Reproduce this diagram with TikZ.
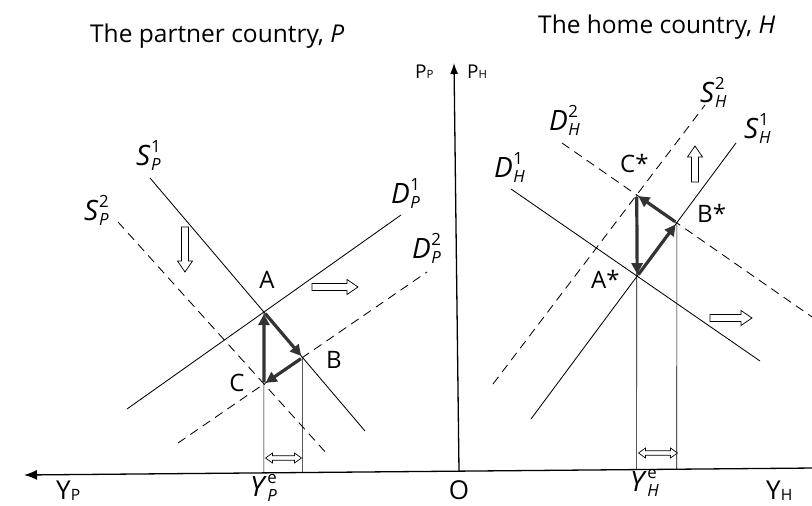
\documentclass[tikz,border=0pt]{standalone}
\usepackage{fontspec}
\setmainfont{Open Sans}
\usepackage{graphicx}
\usetikzlibrary{arrows.meta}
\newcommand\SupSub[2]{\kern0.5pt\rlap{\raisebox{0.45em}{\scalebox{0.6}{#1}}}\raisebox{-0.2em}{\scalebox{0.6}{#2}}}
\newcommand\SubOnly[1]{\raisebox{-0.05em}{\scalebox{0.6}{#1}}}
\begin{document}
\begin{tikzpicture}[x=1pt,y=-1pt,
  solidcurve/.style={line width=0.85pt},
  dashcurve/.style={line width=0.85pt, dash pattern=on 9pt off 6pt},
  guideline/.style={line width=0.6pt},
  axisline/.style={line width=1.3pt},
  movearrow/.style={line width=3.2pt, draw=black!80, -{Triangle[length=11pt,width=11pt]}, shorten <=2pt, shorten >=2pt},
  titletext/.style={inner sep=0pt, anchor=base west, font=\fontsize{24.5}{28}\selectfont},
  pointlabel/.style={inner sep=0pt, font=\fontsize{24}{28}\selectfont},
  curvelabel/.style={inner sep=0pt, anchor=base west, font=\fontsize{28}{32}\selectfont},
  axislabel/.style={inner sep=0pt, font=\fontsize{26}{28}\selectfont},
  pricelabel/.style={inner sep=0pt, anchor=base west, font=\fontsize{19}{22}\selectfont},
  pics/shiftarrow/.style={code={\draw[line width=0.75pt, fill=white] (0,-3.5) -- (#1-11,-3.5) -- (#1-11,-7.5) -- (#1,0) -- (#1-11,7.5) -- (#1-11,3.5) -- (0,3.5) -- cycle;}},
  pics/gaparrow/.style={code={\draw[line width=0.65pt, fill=white] (0,0) -- (7,-5) -- (7,-2.2) -- (#1-7,-2.2) -- (#1-7,-5) -- (#1,0) -- (#1-7,5) -- (#1-7,2.2) -- (7,2.2) -- (7,5) -- cycle;}}]
\useasboundingbox (0,0) rectangle (812,506);

% ---------- axes ----------
\coordinate (O) at (459,471);
\coordinate (Ptop) at (454,63);
\coordinate (Xr) at (815,468);
\coordinate (Xl) at (24,475);
\draw[axisline,-{Latex[length=13pt,width=10pt]}] (Xr) -- (Xl);
\draw[axisline,-{Latex[length=11pt,width=8pt]}] (O) -- (Ptop);

% ---------- titles ----------
\node[titletext] (tP) at (90,42) {The partner country, \textit{P}};
\node[titletext] (tH) at (538,33) {The home country, \textit{H}};

% ---------- left panel curves ----------
\coordinate (S1a) at (150,178);  \coordinate (S1b) at (365,431);
\coordinate (D1a) at (127,409);  \coordinate (D1b) at (401,215);
\coordinate (S2a) at (118,222);  \coordinate (S2b) at (328,455);
\coordinate (D2a) at (178,443);  \coordinate (D2b) at (427,272);
\draw[solidcurve] (S1a) -- (S1b);
\draw[solidcurve] (D1a) -- (D1b);
\draw[dashcurve] (S2a) -- (S2b);
\draw[dashcurve] (D2a) -- (D2b);
\coordinate (A) at (intersection of S1a--S1b and D1a--D1b);
\coordinate (B) at (intersection of S1a--S1b and D2a--D2b);
\coordinate (C) at (intersection of S2a--S2b and D2a--D2b);
\coordinate (Adown) at (A |- 0,600);
\coordinate (Bdown) at (B |- 0,600);
\coordinate (Afoot) at (intersection of A--Adown and Xl--Xr);
\coordinate (Bfoot) at (intersection of B--Bdown and Xl--Xr);
\draw[guideline] (A) -- (Afoot);
\draw[guideline] (B) -- (Bfoot);
\draw[movearrow] (C) -- (A);
\draw[movearrow] (A) -- (B);
\draw[movearrow] (B) -- (C);

% ---------- right panel curves ----------
\coordinate (SH1a) at (531,419);  \coordinate (SH1b) at (736,143);
\coordinate (DH1a) at (511,189);  \coordinate (DH1b) at (760,361);
\coordinate (SH2a) at (493,384);  \coordinate (SH2b) at (705,105);
\coordinate (DH2a) at (562,143);  \coordinate (DH2b) at (815,319);
\draw[solidcurve] (SH1a) -- (SH1b);
\draw[solidcurve] (DH1a) -- (DH1b);
\draw[dashcurve] (SH2a) -- (SH2b);
\draw[dashcurve] (DH2a) -- (DH2b);
\coordinate (As) at (intersection of SH1a--SH1b and DH1a--DH1b);
\coordinate (Bs) at (intersection of SH1a--SH1b and DH2a--DH2b);
\coordinate (Cs) at (intersection of SH2a--SH2b and DH2a--DH2b);
\coordinate (Csdown) at (Cs |- 0,600);
\coordinate (Bsdown) at (Bs |- 0,600);
\coordinate (Csfoot) at (intersection of Cs--Csdown and Xl--Xr);
\coordinate (Bsfoot) at (intersection of Bs--Bsdown and Xl--Xr);
\draw[guideline] (Cs) -- (Csfoot);
\draw[guideline] (Bs) -- (Bsfoot);
\draw[movearrow] (Cs) -- (As);
\draw[movearrow] (As) -- (Bs);
\draw[movearrow] (Bs) -- (Cs);

% ---------- hollow shift arrows ----------
\pic[rotate=-90] (shiftS) at (185,227) {shiftarrow=45};
\pic (shiftD) at (312,287) {shiftarrow=46};
\pic[rotate=90] (shiftSH) at (695,182) {shiftarrow=36};
\pic (shiftDH) at (710,318) {shiftarrow=42};
\pic (gapP) at (265.5,458) {gaparrow=36};
\pic (gapH) at (638.5,453) {gaparrow=39};

% ---------- point labels ----------
\node[pointlabel, anchor=base] (lA) at (267,288) {A};
\node[pointlabel, anchor=base] (lB) at (334,368) {B};
\node[pointlabel, anchor=base] (lC) at (237,391) {C};
\node[pointlabel, anchor=base west] (lAs) at (591,288) {A*};
\node[pointlabel, anchor=base west] (lBs) at (697,222) {B*};
\node[pointlabel, anchor=base west] (lCs) at (620,172) {C*};

% ---------- curve labels ----------
\node[curvelabel] (lS1) at (136,165) {\textit{S}\SupSub{1}{\textit{P}}};
\node[curvelabel] (lS2) at (84,220) {\textit{S}\SupSub{2}{\textit{P}}};
\node[curvelabel] (lD1) at (391,203) {\textit{D}\SupSub{1}{\textit{P}}};
\node[curvelabel] (lD2) at (412,258) {\textit{D}\SupSub{2}{\textit{P}}};
\node[curvelabel] (lDH1) at (494,177) {\textit{D}\SupSub{1}{\textit{H}}};
\node[curvelabel] (lDH2) at (549,130) {\textit{D}\SupSub{2}{\textit{H}}};
\node[curvelabel] (lSH2) at (700,102) {\textit{S}\SupSub{2}{\textit{H}}};
\node[curvelabel] (lSH1) at (744,138) {\textit{S}\SupSub{1}{\textit{H}}};

% ---------- axis labels ----------
\node[pricelabel] (lPP) at (415,78) {P\SubOnly{P}};
\node[pricelabel] (lPH) at (467,78) {P\SubOnly{H}};
\node[axislabel, anchor=base west] (lYP) at (56,499) {Y\SubOnly{P}};
\node[axislabel, anchor=base west] (lYH) at (766,499) {Y\SubOnly{H}};
\node[axislabel, anchor=base] (lO) at (459,499) {O};
\node[curvelabel] (lYeP) at (250,496) {\textit{Y}\SupSub{e}{\textit{P}}};
\node[curvelabel] (lYeH) at (630,491) {\textit{Y}\SupSub{e}{\textit{H}}};
\end{tikzpicture}
\end{document}
